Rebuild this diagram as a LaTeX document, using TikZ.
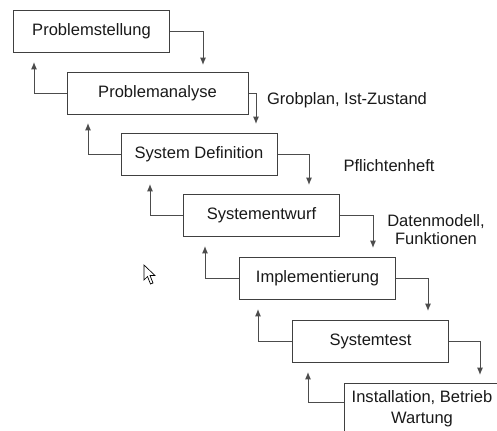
\documentclass[tikz,border=0pt]{standalone}
\usepackage{fontspec}
\setmainfont{Liberation Sans}
\usetikzlibrary{arrows.meta}

\tikzset{every picture/.style={line width=0.75pt}}
\tikzset{
	phase/.style={draw=black!75, fill=white, minimum width=117pt, minimum height=31.5pt, inner sep=0pt, align=center, font=\fontsize{12.4}{15.75}\selectfont, text=black!90},
	result/.style={inner sep=0pt, align=center, font=\fontsize{12.4}{13.5}\selectfont, text=black!90},
	flow/.style={draw=black!70, -{Latex[length=5.5pt,width=4.5pt]}},
}

\begin{document}
\begin{tikzpicture}[x=0.75pt,y=0.75pt,yscale=-1,xscale=1]
	\useasboundingbox (0,0) rectangle (497,430);
	\clip (0,0) rectangle (497,430);

	% Phase boxes
	\node[phase] (stellung) at (91.5,31) {Problemstellung};
	\node[phase, minimum width=135.75pt] (analyse) at (157.5,93.5) {Problemanalyse};
	\node[phase] (definition) at (199,154) {System Definition};
	\node[phase] (entwurf) at (261.5,215.5) {Systementwurf};
	\node[phase] (impl) at (317.5,278) {Implementierung};
	\node[phase] (test) at (370.5,341) {Systemtest};
	\node[phase, minimum height=39pt] (betrieb) at (422,409) {Installation, Betrieb\\Wartung};

	% Arrow ends
	\coordinate (d1) at (203,65);
	\coordinate (d2) at (256,124);
	\coordinate (d3) at (309,185);
	\coordinate (d4) at (373,248);
	\coordinate (d5) at (428,311);
	\coordinate (d6) at (480,375);
	\coordinate (u1) at (34,62);
	\coordinate (u2) at (88,123);
	\coordinate (u3) at (150,184);
	\coordinate (u4) at (205,246);
	\coordinate (u5) at (258,309);
	\coordinate (u6) at (308,372);

	% Forward arrows
	\draw[flow] (stellung.east) -| (d1);
	\draw[flow] (analyse.east) -| (d2);
	\draw[flow] (definition.east) -| (d3);
	\draw[flow] (entwurf.east) -| (d4);
	\draw[flow] (impl.east) -| (d5);
	\draw[flow] (test.east) -| (d6);

	% Back arrows
	\draw[flow] (analyse.west) -| (u1);
	\draw[flow] (definition.west) -| (u2);
	\draw[flow] (entwurf.west) -| (u3);
	\draw[flow] (impl.west) -| (u4);
	\draw[flow] (test.west) -| (u5);
	\draw[flow] (betrieb.west |- 0,402) -| (u6);

	% Text Node
	\node[result] (grobplan) at (347,100) {Grobplan, Ist-Zustand};
	% Text Node
	\node[result] (pflichten) at (389,166) {Pflichtenheft};
	% Text Node
	\node[result] (daten) at (436,230) {Datenmodell,\\Funktionen};

	% Mouse pointer
	\draw[line width=0.5pt, fill=white] (144,265) -- (144,280) -- (147.5,276.5) -- (150.5,284) -- (153,283) -- (150,275.5) -- (155,275.5) -- cycle;

\end{tikzpicture}
\end{document}
